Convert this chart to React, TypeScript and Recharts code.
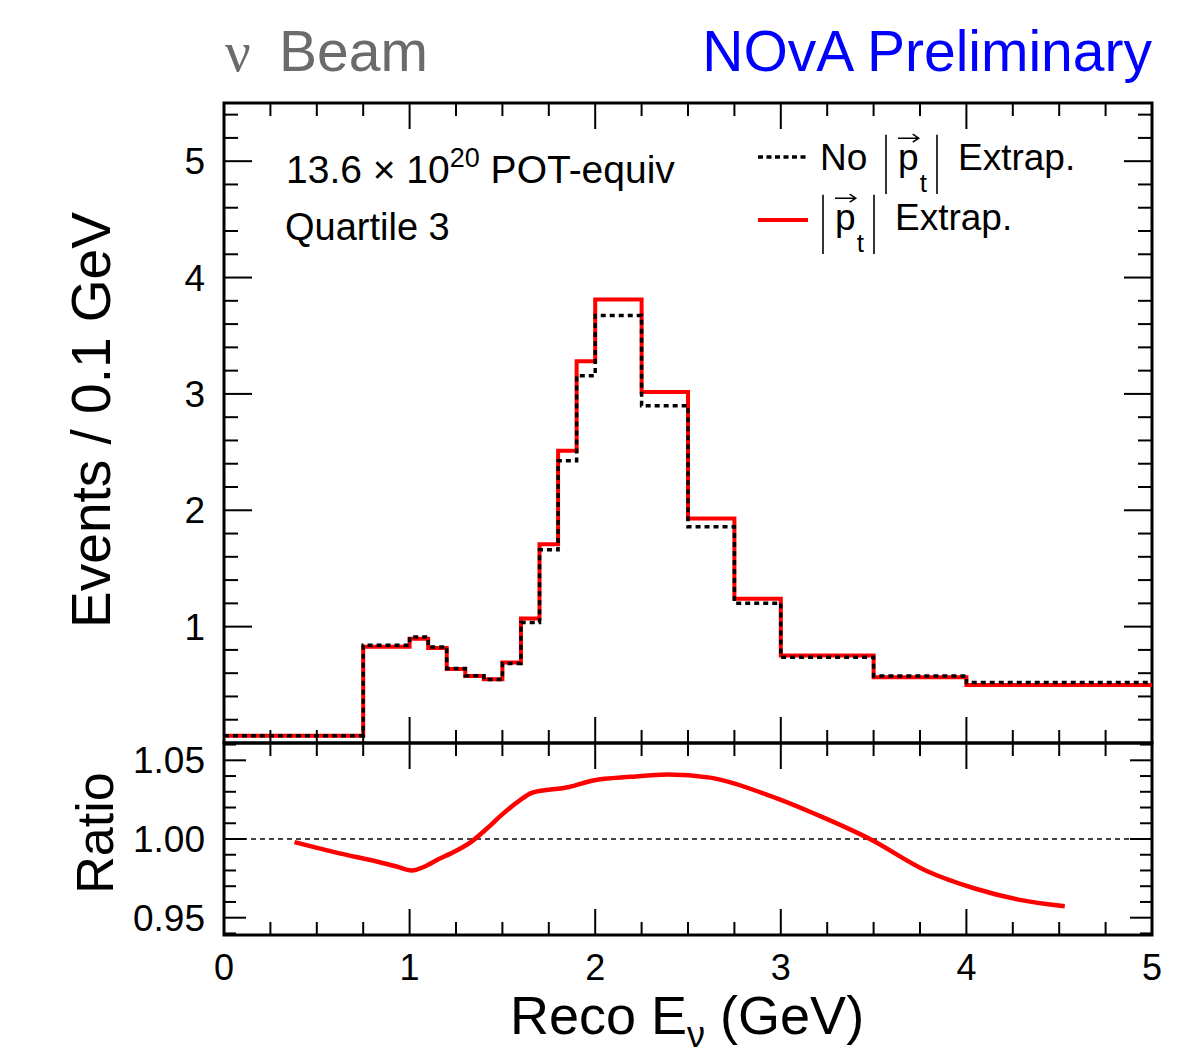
import { ComposedChart, Line, XAxis, YAxis, ReferenceArea, ReferenceLine } from 'recharts';

// bin edges in Reco E (GeV) and contents per bin
const binEdges = [0, 0.75, 1.0, 1.1, 1.2, 1.3, 1.4, 1.5, 1.6, 1.7, 1.8, 1.9, 2.0, 2.25, 2.5, 2.75, 3.0, 3.5, 4.0, 5.0];
const ptExtrap = [0.063, 0.828, 0.895, 0.817, 0.637, 0.576, 0.548, 0.691, 1.071, 1.709, 2.512, 3.28, 3.811, 3.017, 1.929, 1.239, 0.751, 0.565, 0.499];
const noPtExtrap = [0.063, 0.84, 0.912, 0.826, 0.641, 0.577, 0.546, 0.684, 1.035, 1.66, 2.426, 3.157, 3.673, 2.899, 1.858, 1.202, 0.737, 0.576, 0.519];

// ratio curve (|pt| extrap / no |pt| extrap)
const ratioE = [0.38, 0.6, 0.86, 0.93, 1.01, 1.09, 1.16, 1.22, 1.33, 1.42, 1.49, 1.59, 1.66, 1.86, 1.99, 2.19, 2.39, 2.62, 2.92, 3.25, 3.48, 3.78, 4.05, 4.28, 4.53];
const ratioV = [0.998, 0.9915, 0.9846, 0.9825, 0.98, 0.983, 0.9874, 0.9907, 0.998, 1.007, 1.0147, 1.0242, 1.0294, 1.033, 1.0372, 1.0395, 1.041, 1.039, 1.0284, 1.0126, 1.0, 0.98, 0.9684, 0.9615, 0.9573];

const xTicks = [0, 0.25, 0.5, 0.75, 1, 1.25, 1.5, 1.75, 2, 2.25, 2.5, 2.75, 3, 3.25, 3.5, 3.75, 4, 4.25, 4.5, 4.75, 5];
const eventTicks = [0.2, 0.4, 0.6, 0.8, 1, 1.2, 1.4, 1.6, 1.8, 2, 2.2, 2.4, 2.6, 2.8, 3, 3.2, 3.4, 3.6, 3.8, 4, 4.2, 4.4, 4.6, 4.8, 5, 5.2, 5.4];
const ratioTicks = [0.94, 0.95, 0.96, 0.97, 0.98, 0.99, 1.0, 1.01, 1.02, 1.03, 1.04, 1.05, 1.06];

const histData = binEdges.map((e, i) => ({
  e,
  pt: ptExtrap[Math.min(i, ptExtrap.length - 1)],
  nopt: noPtExtrap[Math.min(i, noPtExtrap.length - 1)],
}));
const ratioData = ratioE.map((e, i) => ({ e, r: ratioV[i] }));

const W = 1188, H = 1054;
const L = 224, R = 1152, T1 = 103, B1 = 743, B2 = 935;
const FONT = '"Liberation Sans", Arial, Helvetica, sans-serif';

const isInt = (v: number) => Math.abs(v - Math.round(v)) < 1e-6;
const isRatioMajor = (v: number) => Math.abs(v * 20 - Math.round(v * 20)) < 1e-6;

function xTick(edgeY: number, dir: number, showLabel: boolean) {
  return (props: any) => {
    const { x, payload } = props;
    const v = payload.value;
    const major = isInt(v);
    const len = major ? 26 : 13;
    return (
      <g>
        <line x1={x} x2={x} y1={edgeY} y2={edgeY + dir * len} stroke="#000" strokeWidth={2} />
        {showLabel && major && (
          <text x={x} y={980} textAnchor="middle" fontSize={36} fontFamily={FONT} fill="#000">{v}</text>
        )}
      </g>
    );
  };
}

function yTick(edgeX: number, dir: number, showLabel: boolean, major: (v: number) => boolean,
  majorLen: number, minorLen: number, fmt: (v: number) => string) {
  return (props: any) => {
    const { y, payload } = props;
    const v = payload.value;
    const m = major(v);
    return (
      <g>
        <line x1={edgeX} x2={edgeX + dir * (m ? majorLen : minorLen)} y1={y} y2={y} stroke="#000" strokeWidth={2} />
        {showLabel && m && (
          <text x={205} y={y + 13} textAnchor="end" fontSize={37} fontFamily={FONT} fill="#000">{fmt(v)}</text>
        )}
      </g>
    );
  };
}

function PtSymbol({ x, base, size }: { x: number; base: number; size: number }) {
  // |p_t| with a vector arrow over the p
  const top = base - size * 0.95;
  const bot = base + size * 0.65;
  const pw = size * 0.56;
  const ay = base - size * 0.86;
  return (
    <g>
      <line x1={x} x2={x} y1={top} y2={bot} stroke="#000" strokeWidth={1.6} />
      <text x={x + 12} y={base} fontSize={size} fontFamily={FONT} fill="#000">p</text>
      <path d={`M ${x + 12} ${ay} L ${x + 12 + pw} ${ay} M ${x + 6 + pw} ${ay - 4} L ${x + 12 + pw} ${ay} L ${x + 6 + pw} ${ay + 4}`}
        stroke="#000" strokeWidth={1.5} fill="none" />
      <text x={x + 13 + pw} y={base + size * 0.6} fontSize={size * 0.7} fontFamily={FONT} fill="#000">t</text>
      <line x1={x + 51} x2={x + 51} y1={top} y2={bot} stroke="#000" strokeWidth={1.6} />
    </g>
  );
}

export default function App() {
  return (
    <div style={{ position: 'absolute', left: 0, top: 0, width: W, height: H, background: '#fff' }}>
      <div style={{ position: 'absolute', left: 0, top: 0 }}>
        <ComposedChart width={W} height={H} data={histData}
          margin={{ top: T1 - 1, right: W - R - 1, bottom: H - B1 - 1, left: L - 1 }}>
          <XAxis xAxisId="b" dataKey="e" type="number" domain={[0, 5]} ticks={xTicks} interval={0}
            height={1} axisLine={false} tickLine={false} tick={xTick(B1, -1, false)} />
          <XAxis xAxisId="t" orientation="top" dataKey="e" type="number" domain={[0, 5]} ticks={xTicks} interval={0}
            height={1} axisLine={false} tickLine={false} tick={xTick(T1, 1, false)} />
          <YAxis yAxisId="l" type="number" domain={[0, 5.5]} ticks={eventTicks} interval={0}
            width={1} axisLine={false} tickLine={false}
            tick={yTick(L, 1, true, isInt, 28, 14, (v) => String(v))} />
          <YAxis yAxisId="r" orientation="right" type="number" domain={[0, 5.5]} ticks={eventTicks} interval={0}
            width={1} axisLine={false} tickLine={false}
            tick={yTick(R, -1, false, isInt, 28, 14, (v) => String(v))} />
          <ReferenceArea xAxisId="b" yAxisId="l" x1={0} x2={5} y1={0} y2={5.5}
            fill="none" stroke="#000" strokeWidth={3} />
          <Line xAxisId="t" yAxisId="r" dataKey="pt" stroke="none" dot={false} isAnimationActive={false} />
          <Line xAxisId="b" yAxisId="l" type="stepAfter" dataKey="pt" stroke="#ff0000" strokeWidth={4}
            dot={false} isAnimationActive={false} />
          <Line xAxisId="b" yAxisId="l" type="stepAfter" dataKey="nopt" stroke="#000" strokeWidth={3.5}
            strokeDasharray="5 4" dot={false} isAnimationActive={false} />
        </ComposedChart>
      </div>

      <div style={{ position: 'absolute', left: 0, top: 0 }}>
        <ComposedChart width={W} height={H} data={ratioData}
          margin={{ top: B1 - 1, right: W - R - 1, bottom: H - B2 - 1, left: L - 1 }}>
          <XAxis xAxisId="b" dataKey="e" type="number" domain={[0, 5]} ticks={xTicks} interval={0}
            height={1} axisLine={false} tickLine={false} tick={xTick(B2, -1, true)} />
          <XAxis xAxisId="t" orientation="top" dataKey="e" type="number" domain={[0, 5]} ticks={xTicks} interval={0}
            height={1} axisLine={false} tickLine={false} tick={xTick(B1, 1, false)} />
          <YAxis yAxisId="l" type="number" domain={[0.939, 1.061]} ticks={ratioTicks} interval={0}
            width={1} axisLine={false} tickLine={false}
            tick={yTick(L, 1, true, isRatioMajor, 22, 12, (v) => v.toFixed(2))} />
          <YAxis yAxisId="r" orientation="right" type="number" domain={[0.939, 1.061]} ticks={ratioTicks} interval={0}
            width={1} axisLine={false} tickLine={false}
            tick={yTick(R, -1, false, isRatioMajor, 22, 12, (v) => v.toFixed(2))} />
          <ReferenceArea xAxisId="b" yAxisId="l" x1={0} x2={5} y1={0.939} y2={1.061}
            fill="none" stroke="#000" strokeWidth={3} />
          <ReferenceLine xAxisId="b" yAxisId="l" y={1} stroke="#444" strokeWidth={2} strokeDasharray="5 4" />
          <Line xAxisId="t" yAxisId="r" dataKey="r" stroke="none" dot={false} isAnimationActive={false} />
          <Line xAxisId="b" yAxisId="l" type="monotone" dataKey="r" stroke="#ff0000" strokeWidth={4.5}
            dot={false} isAnimationActive={false} />
        </ComposedChart>
      </div>

      <svg width={W} height={H} style={{ position: 'absolute', left: 0, top: 0, pointerEvents: 'none' }}
        fontFamily={FONT}>
        <text x={225} y={71} fontSize={57} fill="#6b6b6b"
          fontFamily='"Liberation Serif", "DejaVu Serif", serif'>ν</text>
        <text x={279} y={71} fontSize={57} fill="#6b6b6b">Beam</text>
        <text x={1152} y={71} fontSize={57} fill="#0000ff" textAnchor="end">NOvA Preliminary</text>

        <text x={286} y={183} fontSize={39} fill="#000">
          13.6 × 10<tspan dy={-16} fontSize={27}>20</tspan><tspan dy={16}> POT-equiv</tspan>
        </text>
        <text x={285} y={240} fontSize={38} fill="#000">Quartile 3</text>

        {/* legend */}
        <line x1={758} x2={808} y1={157} y2={157} stroke="#000" strokeWidth={3.5} strokeDasharray="5 3.5" />
        <text x={820} y={170} fontSize={37} fill="#000">No</text>
        <PtSymbol x={886} base={170} size={37} />
        <text x={958} y={170} fontSize={37} fill="#000">Extrap.</text>

        <line x1={758} x2={808} y1={220} y2={220} stroke="#ff0000" strokeWidth={4} />
        <PtSymbol x={823} base={230} size={37} />
        <text x={895} y={230} fontSize={37} fill="#000">Extrap.</text>

        <text x={110} y={420} fontSize={55} fill="#000" textAnchor="middle" transform="rotate(-90 110 420)">
          Events / 0.1 GeV
        </text>
        <text x={113} y={833} fontSize={52} fill="#000" textAnchor="middle" transform="rotate(-90 113 833)">
          Ratio
        </text>
        <text x={510} y={1034} fontSize={54} fill="#000">
          Reco E<tspan dy={13} fontSize={36}>ν</tspan><tspan dy={-13}> (GeV)</tspan>
        </text>
      </svg>
    </div>
  );
}
